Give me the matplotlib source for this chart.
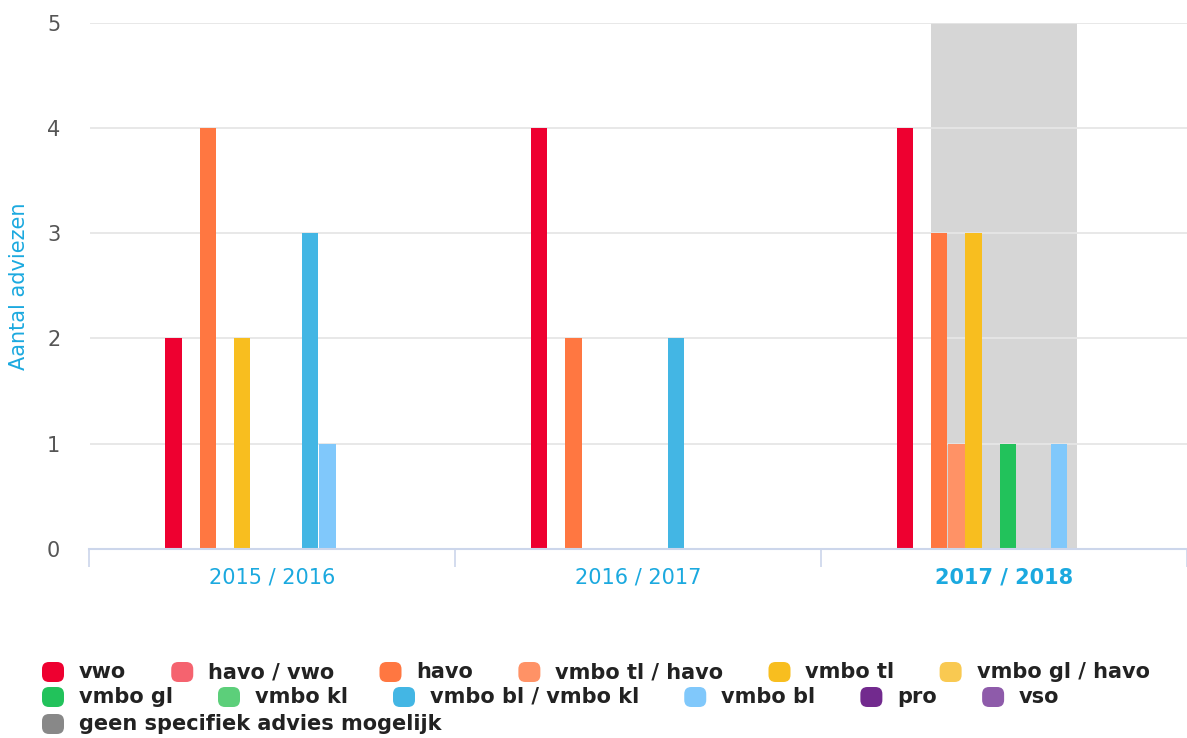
import numpy as np
import matplotlib
matplotlib.use('Agg')
import matplotlib.pyplot as plt
from matplotlib.patches import FancyBboxPatch
from matplotlib.transforms import IdentityTransform

categories = ['2015 / 2016', '2016 / 2017', '2017 / 2018']
series_names = ['vwo', 'havo / vwo', 'havo', 'vmbo tl / havo', 'vmbo tl',
                'vmbo gl / havo', 'vmbo gl', 'vmbo kl', 'vmbo bl / vmbo kl',
                'vmbo bl', 'pro', 'vso', 'geen specifiek advies mogelijk']
vwo = [2, 4, 4]
havo_vwo = [0, 0, 0]
havo = [4, 2, 3]
vmbo_tl_havo = [0, 0, 1]
vmbo_tl = [2, 0, 3]
vmbo_gl_havo = [0, 0, 0]
vmbo_gl = [0, 0, 1]
vmbo_kl = [0, 0, 0]
vmbo_bl_kl = [3, 2, 0]
vmbo_bl = [1, 0, 1]
pro = [0, 0, 0]
vso = [0, 0, 0]
geen = [0, 0, 0]
series_values = [vwo, havo_vwo, havo, vmbo_tl_havo, vmbo_tl, vmbo_gl_havo,
                 vmbo_gl, vmbo_kl, vmbo_bl_kl, vmbo_bl, pro, vso, geen]
colors = ['#EE0030', '#F5636F', '#FF7741', '#FF9266', '#F8BE1F', '#F9C951',
          '#22C25B', '#5CCF7A', '#43B6E4', '#80C8FB', '#722A8E', '#8E5BAA',
          '#888888']
band = (1.8, 2.2)

W, H = 1187, 738
left_px, right_px, top_px, bottom_px = 89.5, 1187, 22.7, 549
cat_px = 367.8

fig = plt.figure(figsize=(W / 100, H / 100), dpi=100)
ax = fig.add_axes([left_px / W, (H - bottom_px) / H,
                   (right_px - left_px) / W, (bottom_px - top_px) / H])

n = len(series_names)
group = 0.608
slot = group / n
x = np.arange(len(categories))
for i, (vals, col) in enumerate(zip(series_values, colors)):
    pos = x - group / 2 + slot * (i + 0.5) + 0.01
    ax.bar(pos, vals, width=slot * 0.95, color=col, linewidth=0, zorder=2)

ax.axvspan(band[0], band[1], color='#D6D6D6', lw=0, zorder=0.2)

ax.set_xlim(-0.5, -0.5 + (right_px - left_px) / cat_px)
ax.set_ylim(0, 5)
ax.set_yticks(range(6))
ax.grid(axis='y', color='#E6E6E6', lw=1.3)
ax.set_axisbelow(True)
for s in ['top', 'right', 'left']:
    ax.spines[s].set_visible(False)
ax.spines['bottom'].set_color('#CCD6EB')
ax.spines['bottom'].set_linewidth(1.5)

ax.set_xticks([-0.5, 0.5, 1.5, 2.5])
ax.set_xticklabels([])
ax.tick_params(axis='x', which='major', length=13, width=1.2, color='#CCD6EB')
ax.set_xticks(x, minor=True)
ax.set_xticklabels(categories, minor=True)
ax.tick_params(axis='x', which='minor', length=0, pad=13, labelsize=15,
               labelcolor='#1BA9DF')
ax.get_xticklabels(minor=True)[2].set_fontweight('bold')
ax.tick_params(axis='y', length=0, pad=21, labelsize=15, labelcolor='#555555')

fig.text(19 / W, 1 - 286 / H, 'Aantal adviezen', rotation=90, ha='center',
         va='center', fontsize=15, color='#1BA9DF')

# legend, flowed like the original
rows = [range(0, 6), range(6, 12), range(12, 13)]
row_y = [672, 697, 724]
renderer = fig.canvas.get_renderer()
for r, yc in zip(rows, row_y):
    xp = 42
    for i in r:
        fig.add_artist(FancyBboxPatch((xp, H - yc - 10), 22, 20,
                                      boxstyle='round,pad=0,rounding_size=7',
                                      fc=colors[i], ec='none',
                                      transform=IdentityTransform()))
        t = fig.text((xp + 37) / W, 1 - yc / H, series_names[i], ha='left',
                     va='center', fontsize=15, fontweight='bold', color='#222222')
        wpx = t.get_window_extent(renderer).width
        xp = xp + 37 + wpx + 45

fig.savefig('out.png', dpi=100)
